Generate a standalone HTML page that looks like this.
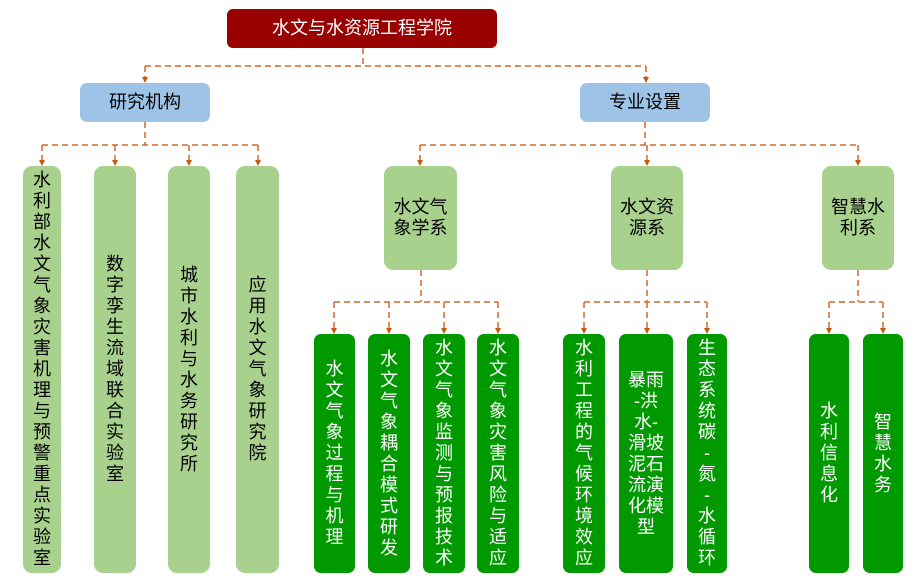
<!DOCTYPE html>
<html>
<head>
<meta charset="utf-8">
<style>
html,body{margin:0;padding:0;background:#fff;}
body{width:918px;height:588px;position:relative;overflow:hidden;font-family:"Liberation Sans","Noto Sans CJK SC",sans-serif;}
.b{position:absolute;box-sizing:border-box;display:flex;align-items:center;justify-content:center;text-align:center;font-size:18px;line-height:21px;}
.top{background:#990000;color:#fff;border-radius:6px;}
.blue{background:#9DC3E6;color:#000;border-radius:7px;}
.lg{background:#A9D18E;color:#000;border-radius:9px;}
.dg{background:#009900;color:#fff;border-radius:7px;}
.v{word-break:break-all;}
svg{position:absolute;left:0;top:0;}
</style>
</head>
<body>
<svg width="918" height="588" viewBox="0 0 918 588">
<g stroke="#D0692A" stroke-width="1.5" stroke-dasharray="6,4" fill="none">
<path d="M363 48V66M145 66H646M145 66V80M646 66V80"/>
<path d="M145 122V145M42 145H258M42 145V162M115 145V162M189 145V162M258 145V162"/>
<path d="M645 122V145M420 145H858M420 145V162M647 145V162M858 145V162"/>
<path d="M421 270V302M334 302H498M334 302V330M389 302V330M444 302V330M498 302V330"/>
<path d="M647 270V302M584 302H707M584 302V330M647 302V330M707 302V330"/>
<path d="M858 270V302M829 302H883M829 302V330M883 302V330"/>
</g>
<g fill="#C55A11">
<path d="M142 77L148 77L145 83Z"/>
<path d="M643 77L649 77L646 83Z"/>
<path d="M39 160L45 160L42 166Z"/>
<path d="M112 160L118 160L115 166Z"/>
<path d="M186 160L192 160L189 166Z"/>
<path d="M255 160L261 160L258 166Z"/>
<path d="M417 160L423 160L420 166Z"/>
<path d="M644 160L650 160L647 166Z"/>
<path d="M855 160L861 160L858 166Z"/>
<path d="M331 328L337 328L334 334Z"/>
<path d="M386 328L392 328L389 334Z"/>
<path d="M441 328L447 328L444 334Z"/>
<path d="M495 328L501 328L498 334Z"/>
<path d="M581 328L587 328L584 334Z"/>
<path d="M644 328L650 328L647 334Z"/>
<path d="M704 328L710 328L707 334Z"/>
<path d="M826 328L832 328L829 334Z"/>
<path d="M880 328L886 328L883 334Z"/>
</g>
</svg>

<div class="b top" style="left:227px;top:9px;width:270px;height:39px;">水文与水资源工程学院</div>
<div class="b blue" style="left:80px;top:83px;width:130px;height:39px;">研究机构</div>
<div class="b blue" style="left:580px;top:83px;width:130px;height:39px;">专业设置</div>

<div class="b lg v" style="left:23px;top:166px;width:38px;height:407px;"><div style="width:18px">水利部水文气象灾害机理与预警重点实验室</div></div>
<div class="b lg v" style="left:94px;top:166px;width:42px;height:407px;"><div style="width:18px">数字孪生流域联合实验室</div></div>
<div class="b lg v" style="left:168px;top:166px;width:42px;height:407px;"><div style="width:18px">城市水利与水务研究所</div></div>
<div class="b lg v" style="left:236px;top:166px;width:43px;height:407px;"><div style="width:18px">应用水文气象研究院</div></div>

<div class="b lg" style="left:384px;top:166px;width:73px;height:104px;">水文气<br>象学系</div>
<div class="b lg" style="left:611px;top:166px;width:72px;height:104px;">水文资<br>源系</div>
<div class="b lg" style="left:822px;top:166px;width:72px;height:104px;">智慧水<br>利系</div>

<div class="b dg v" style="left:314px;top:334px;width:41px;height:239px;"><div style="width:18px">水文气象过程与机理</div></div>
<div class="b dg v" style="left:368px;top:334px;width:42px;height:239px;"><div style="width:18px">水文气象耦合模式研发</div></div>
<div class="b dg v" style="left:423px;top:334px;width:42px;height:239px;"><div style="width:18px">水文气象监测与预报技术</div></div>
<div class="b dg v" style="left:477px;top:334px;width:42px;height:239px;"><div style="width:18px">水文气象灾害风险与适应</div></div>
<div class="b dg v" style="left:563px;top:334px;width:42px;height:239px;"><div style="width:18px">水利工程的气候环境效应</div></div>
<div class="b dg" style="left:619px;top:334px;width:54px;height:239px;">暴雨<br>-洪<br>水-<br>滑坡<br>泥石<br>流演<br>化模<br>型</div>
<div class="b dg" style="left:687px;top:334px;width:40px;height:239px;">生<br>态<br>系<br>统<br>碳<br>-<br>氮<br>-<br>水<br>循<br>环</div>
<div class="b dg v" style="left:809px;top:334px;width:40px;height:239px;"><div style="width:18px">水利信息化</div></div>
<div class="b dg v" style="left:863px;top:334px;width:40px;height:239px;"><div style="width:18px">智慧水务</div></div>
</body>
</html>
